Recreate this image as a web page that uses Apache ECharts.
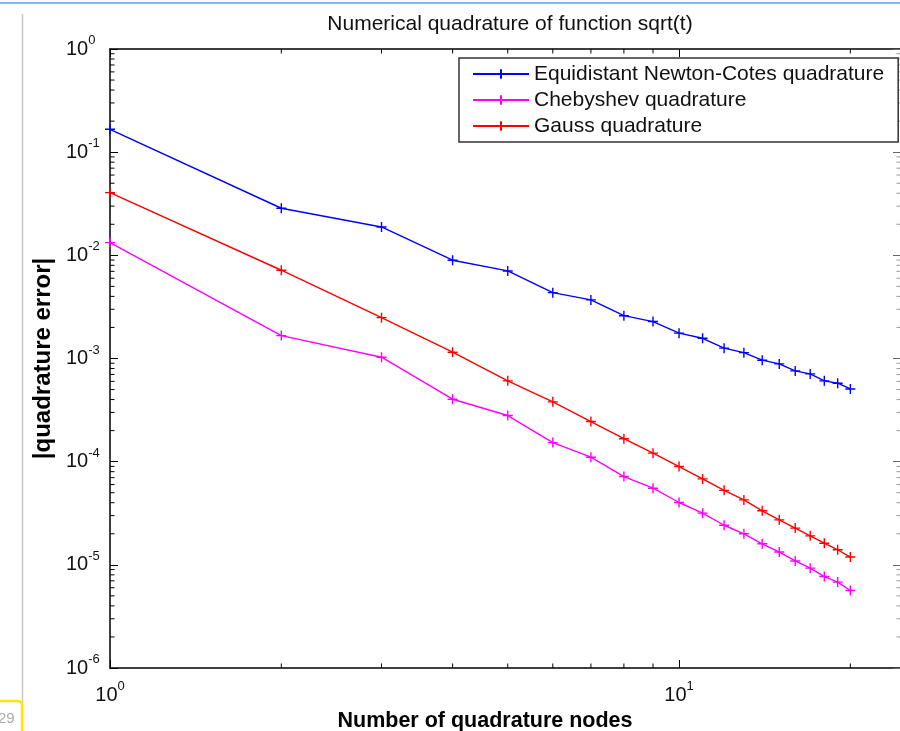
<!DOCTYPE html>
<html>
<head>
<meta charset="utf-8">
<title>Numerical quadrature of function sqrt(t)</title>
<script src="https://cdn.jsdelivr.net/npm/echarts@6/dist/echarts.min.js"></script>
<style>
  html, body { margin: 0; padding: 0; background: #fff; }
  #chart { width: 900px; height: 731px; }
</style>
</head>
<body>
<div id="chart"></div>
<script>
// number of nodes
var nodes = [1, 2, 3, 4, 5, 6, 7, 8, 9, 10, 11, 12, 13, 14, 15, 16, 17, 18, 19, 20];

// |quadrature error|
var newtonCotes = [0.1667, 0.0286, 0.01884, 0.00897, 0.00706, 0.00435, 0.00370, 0.00260, 0.00228, 0.00176,
                   0.00157, 0.00126, 0.00114, 0.000963, 0.000886, 0.000758, 0.000709, 0.000607, 0.000576, 0.000507];
var chebyshev = [0.01328, 0.001667, 0.001029, 0.000403, 0.000280, 0.0001531, 0.0001105, 7.17e-5, 5.53e-5, 4.02e-5,
                 3.17e-5, 2.42e-5, 2.00e-5, 1.60e-5, 1.33e-5, 1.09e-5, 9.29e-6, 7.70e-6, 6.80e-6, 5.64e-6];
var gauss = [0.0405, 0.00717, 0.00249, 0.00115, 0.000607, 0.000380, 0.000245, 0.000167, 0.0001209, 8.97e-5,
             6.81e-5, 5.27e-5, 4.26e-5, 3.34e-5, 2.73e-5, 2.27e-5, 1.91e-5, 1.62e-5, 1.40e-5, 1.19e-5];

var seriesNames = ['Equidistant Newton-Cotes quadrature', 'Chebyshev quadrature', 'Gauss quadrature'];
var seriesColors = ['#0000ff', '#ff00ff', '#ff0000'];

// axis ranges and minor ticks
var xMin = 1, xMax = 24.55;
var yMin = 1e-6, yMax = 1;
var xMinorTicks = [2, 3, 4, 5, 6, 7, 8, 9, 20];
var yMinorMantissas = [2, 3, 4, 5, 6, 7, 8, 9];
var yMinorDecades = [-6, -5, -4, -3, -2, -1];

var FONT = '"Liberation Sans", Arial, Helvetica, sans-serif';
var plusSymbol = 'path://M0,5L10,5M5,0L5,10';

var toPairs = function(ys){
	var out = [];
	for(var i = 0; i < nodes.length; i ++){
		out.push([nodes[i], ys[i]]);
	}
	return out;
};

// minor tick data: [x, y, kind]  kind 0 = x tick, 1 = y tick
var minorData = [];
for(var i = 0; i < xMinorTicks.length; i ++){
	minorData.push([xMinorTicks[i], yMax, 0]);
}
for(var d = 0; d < yMinorDecades.length; d ++){
	for(var m = 0; m < yMinorMantissas.length; m ++){
		minorData.push([xMin, yMinorMantissas[m] * Math.pow(10, yMinorDecades[d]), 1]);
	}
}

var powLabel = function(value){
	var e = Math.log(value) / Math.LN10;
	var r = Math.round(e);
	if(Math.abs(e - r) > 1e-6){
		return '';
	}
	return '{b|10}{s|' + r + '}';
};

var labelRich = {
	b: {fontSize: 20, lineHeight: 30, fontFamily: FONT, color: '#111'},
	s: {fontSize: 13, lineHeight: 13, verticalAlign: 'top', fontFamily: FONT, color: '#111'}
};

var renderMinorTicks = function(params, api){
	var cs = params.coordSys;
	var kind = api.value(2);
	var p = api.coord([api.value(0), api.value(1)]);
	var len = 4.5;
	var st = {stroke: '#000', lineWidth: 1};
	if(kind === 0){
		return {type: 'group', children: [
			{type: 'line', shape: {x1: p[0], y1: cs.y + cs.height, x2: p[0], y2: cs.y + cs.height - len}, style: st},
			{type: 'line', shape: {x1: p[0], y1: cs.y, x2: p[0], y2: cs.y + len}, style: st}
		]};
	}
	return {type: 'group', children: [
		{type: 'line', shape: {x1: cs.x, y1: p[1], x2: cs.x + len, y2: p[1]}, style: st},
		{type: 'line', shape: {x1: cs.x + cs.width, y1: p[1], x2: cs.x + cs.width - len, y2: p[1]}, style: {stroke: '#999', lineWidth: 1}}
	]};
};

var lineSeries = function(idx, values){
	return {
		name: seriesNames[idx],
		type: 'line',
		xAxisIndex: 0,
		yAxisIndex: 0,
		data: toPairs(values),
		symbol: plusSymbol,
		symbolSize: 10,
		showAllSymbol: true,
		lineStyle: {color: seriesColors[idx], width: 1.4},
		itemStyle: {color: seriesColors[idx], borderColor: seriesColors[idx], borderWidth: 1.4},
		z: 3
	};
};

var chart = echarts.init(document.getElementById('chart'), null, {renderer: 'canvas'});

chart.setOption({
	animation: false,
	backgroundColor: '#fff',
	title: {
		text: 'Numerical quadrature of function sqrt(t)',
		left: 505,
		top: 9,
		textAlign: 'center',
		textStyle: {fontFamily: FONT, fontSize: 21, fontWeight: 'normal', color: '#111'}
	},
	legend: {
		orient: 'vertical',
		left: 459,
		top: 58,
		data: seriesNames,
		itemWidth: 56,
		itemHeight: 12,
		itemGap: 2,
		padding: [4, 14, 4, 13],
		borderColor: '#333',
		borderWidth: 1.5,
		backgroundColor: '#fff',
		textStyle: {fontFamily: FONT, fontSize: 21, lineHeight: 24, color: '#111'}
	},
	grid: {left: 110, top: 49, width: 791, height: 619, containLabel: false, outerBoundsMode: 'none'},
	xAxis: [{
		type: 'log',
		logBase: 10,
		min: xMin,
		max: xMax,
		position: 'bottom',
		name: 'Number of quadrature nodes',
		nameLocation: 'middle',
		nameGap: 36,
		nameTextStyle: {fontFamily: FONT, fontSize: 21.5, fontWeight: 'bold', color: '#000', padding: [0, 41, 0, 0]},
		axisLine: {lineStyle: {color: '#000', width: 1.5}},
		axisTick: {inside: true, length: 8, lineStyle: {color: '#000'}},
		axisLabel: {margin: 12, formatter: powLabel, rich: labelRich},
		splitLine: {show: false},
		minorTick: {show: false}
	}, {
		type: 'log',
		logBase: 10,
		min: xMin,
		max: xMax,
		position: 'top',
		axisLine: {lineStyle: {color: '#000', width: 1.5}},
		axisTick: {inside: true, length: 8, lineStyle: {color: '#000'}},
		axisLabel: {show: false},
		splitLine: {show: false}
	}],
	yAxis: [{
		type: 'log',
		logBase: 10,
		min: yMin,
		max: yMax,
		position: 'left',
		name: '|quadrature error|',
		nameLocation: 'middle',
		nameGap: 55,
		nameTextStyle: {fontFamily: FONT, fontSize: 24, fontWeight: 'bold', color: '#000'},
		axisLine: {lineStyle: {color: '#000', width: 1.5}},
		axisTick: {inside: true, length: 8, lineStyle: {color: '#000'}},
		axisLabel: {margin: 44, align: 'left', formatter: powLabel, rich: labelRich},
		splitLine: {show: false}
	}, {
		type: 'log',
		logBase: 10,
		min: yMin,
		max: yMax,
		position: 'right',
		axisLine: {lineStyle: {color: '#000', width: 1.5}},
		axisTick: {inside: true, length: 8, lineStyle: {color: '#666'}},
		axisLabel: {show: false},
		splitLine: {show: false}
	}],
	series: [
		lineSeries(0, newtonCotes),
		lineSeries(1, chebyshev),
		lineSeries(2, gauss),
		{
			type: 'custom',
			xAxisIndex: 0,
			yAxisIndex: 0,
			silent: true,
			clip: false,
			renderItem: renderMinorTicks,
			data: minorData,
			z: 2
		}
	],
	// bits of the surrounding screen visible in the picture
	graphic: [
		{type: 'line', shape: {x1: 0, y1: 3, x2: 900, y2: 3}, style: {stroke: '#5a9fe6', lineWidth: 1.5}, silent: true},
		{type: 'line', shape: {x1: 22.5, y1: 14, x2: 22.5, y2: 731}, style: {stroke: '#c8c8c8', lineWidth: 1.5}, silent: true},
		{type: 'rect', shape: {x: -6, y: 701, width: 28, height: 40, r: 4}, style: {fill: '#fff', stroke: '#ffe600', lineWidth: 2.5}, silent: true},
		{type: 'text', x: -2, y: 711, style: {text: '29', fill: '#aaa', font: '15px ' + FONT}, silent: true}
	]
});
</script>
</body>
</html>
